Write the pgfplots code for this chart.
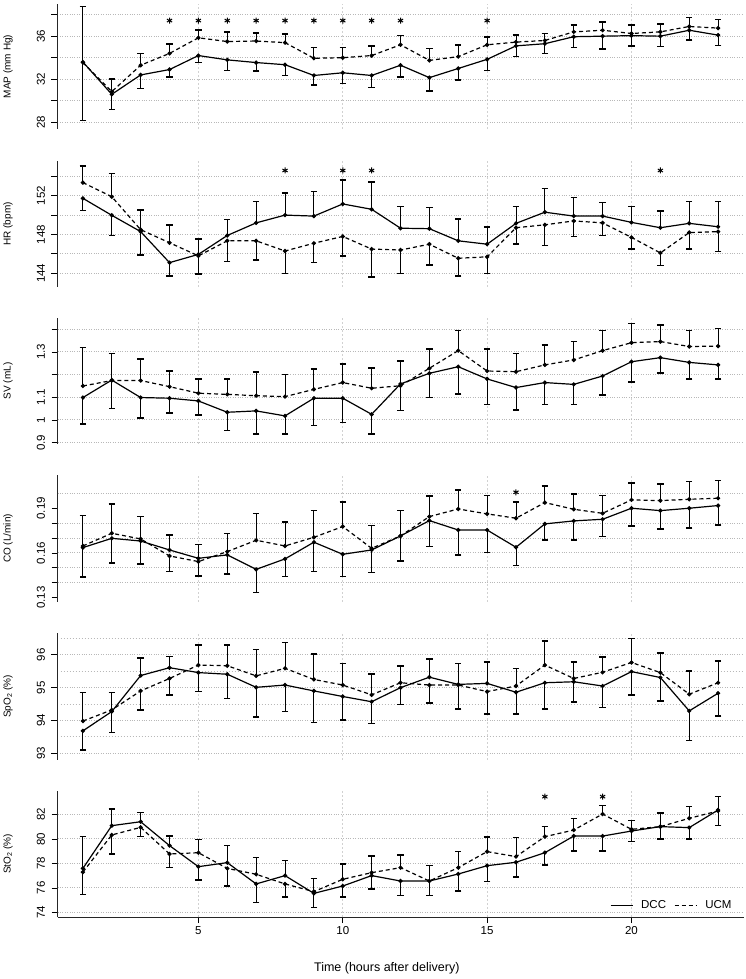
\documentclass[border=0pt]{standalone}
\usepackage{pgfplots}
\pgfplotsset{compat=1.18}
\usepackage{pgfplotstable}
\usepackage{fontspec}
\setmainfont{Liberation Sans}

\pgfplotstableread{
x d u t b
1 33.6 33.55 38.74 28.15
2 30.6 30.85 32.0 29.2
3 32.4 33.3 34.4 31.15
4 32.9 34.4 35.3 32.2
5 34.2 35.85 36.6 33.55
6 33.8 35.5 36.4 32.8
7 33.55 35.55 36.3 32.75
8 33.35 35.4 36.2 32.35
9 32.35 33.95 34.95 31.45
10 32.6 34.0 34.95 31.6
11 32.35 34.2 35.1 31.25
12 33.3 35.2 36.05 32.2
13 32.15 33.75 34.85 30.9
14 33.0 34.1 35.2 31.95
15 33.85 35.2 35.95 32.8
16 35.1 35.45 36.1 34.1
17 35.3 35.6 36.25 34.4
18 35.95 36.4 37.05 34.95
19 36.0 36.55 37.3 34.8
20 36.05 36.25 37.05 35.1
21 36.0 36.4 37.15 35.05
22 36.55 36.9 37.75 35.65
23 36.1 36.75 37.55 35.15
}\tblMAP

\pgfplotstableread{
x d u t b
1 151.73 153.35 155.07 150.46
2 149.98 151.9 154.3 147.9
3 148.3 148.5 150.5 145.9
4 145.1 147.15 148.95 143.7
5 145.95 145.8 147.55 143.95
6 147.9 147.35 149.55 145.2
7 149.2 147.35 151.4 145.4
8 150.0 146.3 152.25 144.0
9 149.9 147.1 152.45 145.1
10 151.15 147.8 153.6 145.8
11 150.6 146.5 153.4 143.65
12 148.65 146.4 150.9 144.0
13 148.6 147.0 150.8 144.85
14 147.35 145.55 149.6 143.7
15 147.0 145.7 148.75 144.0
16 149.15 148.7 150.9 147.0
17 150.3 149.0 152.75 146.85
18 149.9 149.4 151.8 147.8
19 149.9 149.2 151.3 147.9
20 149.25 147.7 150.9 146.5
21 148.7 146.1 150.4 144.8
22 149.15 148.2 151.4 146.5
23 148.8 148.3 151.4 146.25
}\tblHR

\pgfplotstableread{
x d u t b
1 1.099 1.15 1.32 0.982
2 1.176 1.174 1.294 1.05
3 1.099 1.174 1.27 1.01
4 1.096 1.147 1.216 1.03
5 1.084 1.118 1.18 1.022
6 1.034 1.113 1.18 0.953
7 1.04 1.107 1.212 0.938
8 1.018 1.103 1.2 0.938
9 1.096 1.135 1.224 0.975
10 1.096 1.165 1.247 0.988
11 1.025 1.14 1.23 0.938
12 1.159 1.151 1.26 1.041
13 1.206 1.228 1.312 1.1
14 1.235 1.306 1.394 1.115
15 1.181 1.216 1.312 1.069
16 1.143 1.213 1.294 1.044
17 1.165 1.243 1.331 1.069
18 1.157 1.265 1.346 1.069
19 1.194 1.306 1.394 1.11
20 1.257 1.341 1.426 1.168
21 1.275 1.346 1.419 1.206
22 1.254 1.324 1.394 1.181
23 1.243 1.326 1.404 1.181
}\tblSV

\pgfplotstableread{
x d u t b
1 0.1636 0.1647 0.185 0.144
2 0.1698 0.1732 0.1929 0.1531
3 0.168 0.1694 0.1844 0.1524
4 0.162 0.158 0.1721 0.1475
5 0.1564 0.1542 0.1658 0.1446
6 0.1587 0.1609 0.173 0.1459
7 0.149 0.1685 0.1866 0.1334
8 0.156 0.1647 0.1806 0.1441
9 0.1672 0.1705 0.1884 0.1475
10 0.1591 0.1777 0.194 0.1441
11 0.162 0.1631 0.1783 0.1468
12 0.1714 0.1714 0.1884 0.1546
13 0.1817 0.1844 0.1983 0.1643
14 0.1754 0.1895 0.2023 0.1587
15 0.1754 0.1862 0.1985 0.1602
16 0.1638 0.1833 0.194 0.1515
17 0.1795 0.1938 0.205 0.1687
18 0.1815 0.1893 0.1996 0.1687
19 0.1826 0.1866 0.1985 0.171
20 0.19 0.1956 0.2068 0.1781
21 0.1884 0.1951 0.2063 0.1759
22 0.19 0.196 0.2079 0.1766
23 0.1918 0.1967 0.2085 0.1788
}\tblCO

\pgfplotstableread{
x d u t b
1 93.68 93.98 94.85 93.1
2 94.27 94.32 94.85 93.63
3 95.37 94.9 95.9 94.32
4 95.61 95.28 95.95 94.78
5 95.46 95.69 96.3 94.88
6 95.41 95.67 96.3 94.67
7 95.01 95.36 96.17 94.11
8 95.08 95.59 96.38 94.27
9 94.9 95.25 96.03 93.93
10 94.73 95.08 95.74 94.01
11 94.57 94.78 95.42 93.91
12 95.0 95.15 95.67 94.49
13 95.32 95.08 95.87 94.54
14 95.1 95.08 95.74 94.35
15 95.13 94.88 95.79 94.2
16 94.86 95.05 95.59 94.2
17 95.15 95.69 96.42 94.35
18 95.18 95.28 95.79 94.57
19 95.05 95.47 95.93 94.39
20 95.49 95.77 96.5 94.78
21 95.31 95.46 96.05 94.6
22 94.29 94.8 95.51 93.38
23 94.83 95.15 95.81 94.14
}\tblSpO

\pgfplotstableread{
x d u t b
1 77.6 77.3 80.19 75.48
2 81.09 80.33 82.45 78.78
3 81.41 80.95 82.18 80.19
4 79.46 78.78 80.24 77.66
5 77.74 78.88 79.97 76.65
6 78.07 77.6 79.46 76.16
7 76.33 77.12 78.5 74.8
8 77.01 76.33 78.23 75.24
9 75.56 75.7 76.79 74.39
10 76.16 76.71 77.96 75.24
11 77.01 77.25 78.61 75.92
12 76.57 77.66 78.69 75.37
13 76.57 76.57 77.82 75.37
14 77.14 77.66 78.97 75.76
15 77.82 78.97 80.14 76.52
16 78.1 78.56 80.11 76.92
17 78.88 80.19 81.01 77.88
18 80.24 80.73 81.69 79.02
19 80.24 82.04 82.72 79.02
20 80.65 80.79 81.5 79.78
21 81.01 81.01 82.1 80.0
22 80.93 81.69 82.64 80.0
23 82.37 82.29 83.46 81.09
}\tblStO

\pgfplotsset{
  panel/.style={
    scale only axis, width=686pt, xmin=0.12, xmax=23.88, clip=false,
    axis x line*=bottom, axis y line*=left,
    xtick={5,10,15,20},
    xmajorgrids, ymajorgrids,
    x grid style={dashed, dash pattern=on 2pt off 2pt, line width=0.8pt, black!18},
    y grid style={dotted, line width=1pt, black!28},
    tick align=outside, major tick length=6pt,
    every tick/.style={black, line width=0.9pt},
    axis line style={black!85, line width=1pt},
    ticklabel style={font=\fontsize{11.5}{12}\selectfont},
    yticklabel style={rotate=90, anchor=south},
    yticklabel shift=3pt,
    label style={font=\fontsize{11.5}{12}\selectfont},
    every axis y label/.style={at={(axis description cs:-0.0722,0.5)}, rotate=90, anchor=center},
  },
  upper/.style={
    x axis line style={draw=none}, xticklabels={}, major x tick style={draw=none},
  },
  dcc/.style={black, line width=1.2pt, solid, mark=*, mark size=1.5pt},
  ucm/.style={black, line width=1.2pt, dash pattern=on 4pt off 3pt, mark=*, mark size=1.5pt, mark options={solid}},
  star/.style={only marks, mark=asterisk, mark size=3pt, line width=1pt, black},
}

\newcommand{\series}[1]{%
  \addplot[forget plot, draw=none, mark=none, error bars/.cd, y dir=plus, y explicit, error mark=|,
    error bar style={draw=black, solid, line width=0.9pt},
    error mark options={draw=black, solid, line width=1.6pt, mark size=3.2pt}]
    table[x=x, y expr={max(\thisrow{d},\thisrow{u})}, y error plus expr={\thisrow{t}-max(\thisrow{d},\thisrow{u})}] {#1};
  \addplot[forget plot, draw=none, mark=none, error bars/.cd, y dir=minus, y explicit, error mark=|,
    error bar style={draw=black, solid, line width=0.9pt},
    error mark options={draw=black, solid, line width=1.6pt, mark size=3.2pt}]
    table[x=x, y expr={min(\thisrow{d},\thisrow{u})}, y error minus expr={min(\thisrow{d},\thisrow{u})-\thisrow{b}}] {#1};
  \addplot[dcc] table[x=x, y=d] {#1};
  \addplot[ucm] table[x=x, y=u] {#1};
}

\begin{document}
\begin{tikzpicture}[x=1pt,y=1pt]
\useasboundingbox (0,0) rectangle (746,979);

% MAP
\begin{axis}[panel, upper, at={(57.5pt,850pt)}, anchor=south west, height=125pt,
  ymin=27.38, ymax=38.99, ytick={28,30,32,34,36,38}, yticklabels={28,,32,,36,},
  ylabel={MAP (mm Hg)}]
\series{\tblMAP}
\addplot[star, forget plot] coordinates {(4,37.45) (5,37.45) (6,37.45) (7,37.45) (8,37.45) (9,37.45) (10,37.45) (11,37.45) (12,37.45) (15,37.45)};
\end{axis}

% HR
\begin{axis}[panel, upper, at={(57.5pt,692pt)}, anchor=south west, height=126pt,
  ymin=142.59, ymax=155.58, ytick={144,146,148,150,152,154}, yticklabels={144,,148,,152,},
  ylabel={HR (bpm)}]
\series{\tblHR}
\addplot[star, forget plot] coordinates {(8,154.6) (10,154.6) (11,154.6) (21,154.6)};
\end{axis}

% SV
\begin{axis}[panel, upper, at={(57.5pt,535pt)}, anchor=south west, height=126pt,
  ymin=0.894, ymax=1.45, ytick={0.9,1.0,1.1,1.2,1.3,1.4}, yticklabels={0.9,1,1.1,,1.3,},
  ylabel={SV (mL)}]
\series{\tblSV}
\end{axis}

% CO
\begin{axis}[panel, upper, at={(57.5pt,377pt)}, anchor=south west, height=127pt,
  ymin=0.1271, ymax=0.2123, ymajorgrids=false,
  ytick={0.13,0.14,0.15,0.16,0.17,0.18,0.19}, yticklabels={0.13,,,0.16,,,0.19},
  extra y ticks={0.14,0.15,0.16,0.17,0.18,0.20}, extra y tick labels={},
  extra y tick style={ymajorgrids=true, major tick length=0pt},
  ylabel={CO (L/min)}]
\series{\tblCO}
\addplot[star, forget plot] coordinates {(16,0.2007)};
\end{axis}

% SpO2
\begin{axis}[panel, upper, at={(57.5pt,219pt)}, anchor=south west, height=127pt,
  ymin=92.79, ymax=96.67, ytick={93,94,95,96}, yticklabels={93,94,95,96},
  minor ytick={93.5,94.5,95.5,96.5}, yminorgrids, minor y grid style={dotted, line width=1pt, black!28},
  minor tick length=0pt,
  ylabel={SpO\textsubscript{2} (\%)}]
\series{\tblSpO}
\end{axis}

% StO2
\begin{axis}[panel, at={(57.5pt,62pt)}, anchor=south west, height=126pt,
  ymin=73.63, ymax=83.92, ytick={74,76,78,80,82}, yticklabels={74,76,78,80,82},
  xticklabels={5,10,15,20},
  ylabel={StO\textsubscript{2} (\%)},
  xlabel={Time (hours after delivery)},
  xlabel style={at={(axis description cs:0.48,-0.405)}, anchor=center, font=\fontsize{12.5}{13}\selectfont},
  legend columns=2,
  legend style={draw=none, fill=none, at={(axis description cs:0.99,0.02)}, anchor=south east,
    font=\fontsize{11.5}{12}\selectfont, column sep=6pt},
  legend image code/.code={\draw[#1, mark=none] (0pt,0pt) -- (22pt,0pt);}]
\series{\tblStO}
\addplot[star, forget plot] coordinates {(17,83.46) (19,83.46)};
\legend{DCC,UCM}
\end{axis}
\end{tikzpicture}
\end{document}
